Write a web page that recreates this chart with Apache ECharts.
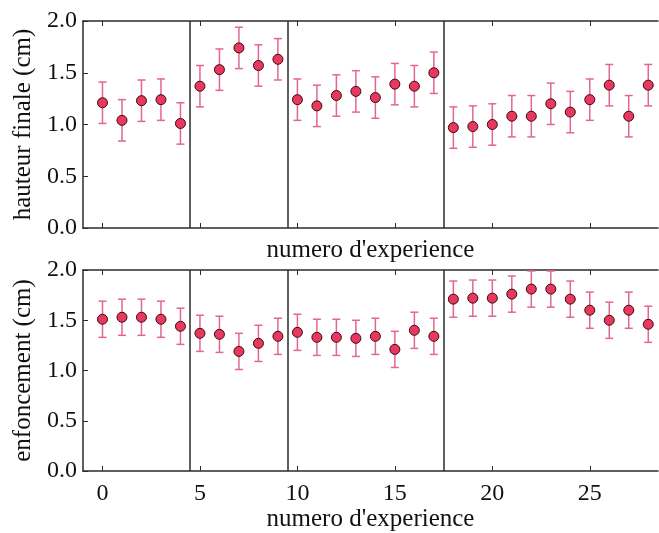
<!DOCTYPE html>
<html>
<head>
<meta charset="utf-8">
<script src="https://cdn.jsdelivr.net/npm/echarts@6/dist/echarts.min.js"></script>
<style>
  html, body { margin: 0; padding: 0; background: #fff; }
  #main { width: 659px; height: 533px; }
</style>
</head>
<body>
<div id="main"></div>
<script>
// numero d'experience
var experiences = [0, 1, 2, 3, 4, 5, 6, 7, 8, 9, 10, 11, 12, 13, 14, 15, 16, 17, 18, 19, 20, 21, 22, 23, 24, 25, 26, 27, 28];
// hauteur finale (cm)
var hauteur = [1.21, 1.04, 1.23, 1.24, 1.01, 1.37, 1.53, 1.74, 1.57, 1.63, 1.24, 1.18, 1.28, 1.32, 1.26,
    1.39, 1.37, 1.50, 0.97, 0.98, 1.00, 1.08, 1.08, 1.20, 1.12, 1.24, 1.38, 1.08, 1.38];
// enfoncement (cm)
var enfoncement = [1.51, 1.53, 1.53, 1.51, 1.44, 1.37, 1.36, 1.19, 1.27, 1.34, 1.38, 1.33, 1.33, 1.32, 1.34,
    1.21, 1.40, 1.34, 1.71, 1.72, 1.72, 1.76, 1.81, 1.81, 1.71, 1.60, 1.50, 1.60, 1.46];
// barres d'erreur
var errHauteur = 0.2;
var errEnfoncement = 0.18;
// separations entre series d'experiences
var separations = [4.5, 9.5, 17.5];
var xTicks = [0, 5, 10, 15, 20, 25];

var FONT = 'Liberation Serif';
var AXIS_COLOR = '#2b2b2b';
var POINT_COLOR = '#e8385d';
var ERR_COLOR = '#e4668f';

function pointsOf(values) {
    return experiences.map(function (x, i) { return [x, values[i]]; });
}

function errorData(values, err) {
    return experiences.map(function (x, i) { return [x, values[i] - err, values[i] + err]; });
}

function renderErrorBar(params, api) {
    var x = api.value(0);
    var low = api.coord([x, api.value(1)]);
    var high = api.coord([x, api.value(2)]);
    var cap = 4;
    var style = { stroke: ERR_COLOR, lineWidth: 1.5 };
    return {
        type: 'group',
        children: [
            { type: 'line', shape: { x1: low[0], y1: low[1], x2: high[0], y2: high[1] }, style: style },
            { type: 'line', shape: { x1: low[0] - cap, y1: low[1], x2: low[0] + cap, y2: low[1] }, style: style },
            { type: 'line', shape: { x1: high[0] - cap, y1: high[1], x2: high[0] + cap, y2: high[1] }, style: style }
        ]
    };
}

function xAxisBottom(gridIndex, showLabels, nameGap) {
    return {
        type: 'value',
        gridIndex: gridIndex,
        position: 'bottom',
        min: -1,
        max: 28.5,
        name: "numero d'experience",
        nameLocation: 'middle',
        nameGap: nameGap,
        nameTextStyle: { fontFamily: FONT, fontSize: 25, color: '#111' },
        axisLine: { show: true, onZero: false, lineStyle: { color: AXIS_COLOR, width: 1.5 } },
        axisTick: { show: true, inside: true, length: 5, customValues: xTicks, lineStyle: { color: AXIS_COLOR } },
        axisLabel: { show: showLabels, customValues: xTicks, margin: 11, fontFamily: FONT, fontSize: 24, color: '#111' },
        splitLine: { show: false }
    };
}

function xAxisTop(gridIndex) {
    return {
        type: 'value',
        gridIndex: gridIndex,
        position: 'top',
        min: -1,
        max: 28.5,
        axisLine: { show: true, onZero: false, lineStyle: { color: AXIS_COLOR, width: 1.5 } },
        axisTick: { show: true, inside: true, length: 5, customValues: xTicks, lineStyle: { color: AXIS_COLOR } },
        axisLabel: { show: false },
        splitLine: { show: false }
    };
}

function yAxisLeft(gridIndex, name) {
    return {
        type: 'value',
        gridIndex: gridIndex,
        min: 0,
        max: 2,
        interval: 0.5,
        name: name,
        nameLocation: 'middle',
        nameGap: 46,
        nameTextStyle: { fontFamily: FONT, fontSize: 25, color: '#111' },
        axisLine: { show: true, onZero: false, lineStyle: { color: AXIS_COLOR, width: 1.5 } },
        axisTick: { show: true, inside: true, length: 5, lineStyle: { color: AXIS_COLOR } },
        axisLabel: {
            margin: 6, fontFamily: FONT, fontSize: 24, color: '#111',
            formatter: function (v) { return v.toFixed(1); }
        },
        splitLine: { show: false }
    };
}

function separationLines() {
    return {
        silent: true,
        symbol: 'none',
        label: { show: false },
        lineStyle: { color: AXIS_COLOR, width: 1.5, type: 'solid' },
        data: separations.map(function (s) { return { xAxis: s }; })
    };
}

function renderChart() {
    var myChart = echarts.init(document.getElementById('main'));
    var option = {
        animation: false,
        backgroundColor: '#fff',
        grid: [
            { left: 83, right: 1, top: 21, height: 207 },
            { left: 83, right: 1, top: 270, height: 207 }
        ],
        xAxis: [
            xAxisBottom(0, false, 10),
            xAxisBottom(1, true, 36),
            xAxisTop(0),
            xAxisTop(1)
        ],
        yAxis: [
            yAxisLeft(0, 'hauteur finale (cm)'),
            yAxisLeft(1, 'enfoncement (cm)')
        ],
        series: [
            {
                type: 'custom',
                xAxisIndex: 0,
                yAxisIndex: 0,
                renderItem: renderErrorBar,
                data: errorData(hauteur, errHauteur),
                z: 2
            },
            {
                type: 'scatter',
                xAxisIndex: 0,
                yAxisIndex: 0,
                symbolSize: 10,
                itemStyle: { color: POINT_COLOR, borderColor: '#3a0a15', borderWidth: 1, opacity: 1 },
                data: pointsOf(hauteur),
                markLine: separationLines(),
                z: 3
            },
            {
                type: 'custom',
                xAxisIndex: 1,
                yAxisIndex: 1,
                renderItem: renderErrorBar,
                data: errorData(enfoncement, errEnfoncement),
                z: 2
            },
            {
                type: 'scatter',
                xAxisIndex: 1,
                yAxisIndex: 1,
                symbolSize: 10,
                itemStyle: { color: POINT_COLOR, borderColor: '#3a0a15', borderWidth: 1, opacity: 1 },
                data: pointsOf(enfoncement),
                markLine: separationLines(),
                z: 3
            }
        ]
    };
    myChart.setOption(option);
}

renderChart();
</script>
</body>
</html>
